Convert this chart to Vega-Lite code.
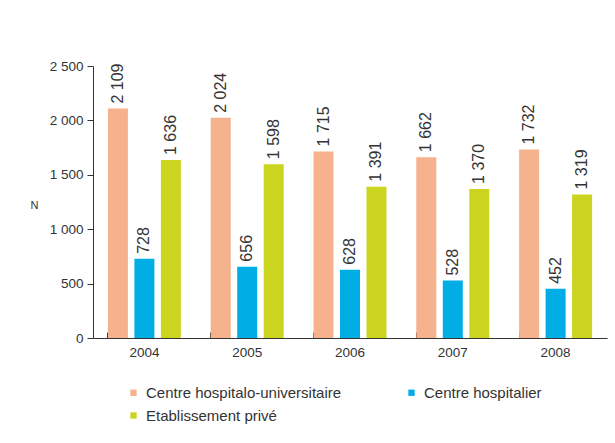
{
  "$schema": "https://vega.github.io/schema/vega-lite/v6.json",
  "width": 514,
  "height": 272,
  "autosize": "none",
  "padding": {"left": 93, "top": 66, "right": 8, "bottom": 105},
  "background": "white",
  "config": {
    "locale": {"number": {"decimal": ",", "thousands": " ", "grouping": [3], "currency": ["", " €"]}},
    "view": {"stroke": null},
    "font": "Liberation Sans",
    "axis": {"domainColor": "#333333", "tickColor": "#333333", "labelColor": "#333333", "labelFont": "Liberation Sans", "labelFontSize": 13.5, "grid": false}
  },
  "data": {
    "values": [
      {"annee": "2004", "type": "Centre hospitalo-universitaire", "n": 2109},
      {"annee": "2004", "type": "Centre hospitalier", "n": 728},
      {"annee": "2004", "type": "Etablissement privé", "n": 1636},
      {"annee": "2005", "type": "Centre hospitalo-universitaire", "n": 2024},
      {"annee": "2005", "type": "Centre hospitalier", "n": 656},
      {"annee": "2005", "type": "Etablissement privé", "n": 1598},
      {"annee": "2006", "type": "Centre hospitalo-universitaire", "n": 1715},
      {"annee": "2006", "type": "Centre hospitalier", "n": 628},
      {"annee": "2006", "type": "Etablissement privé", "n": 1391},
      {"annee": "2007", "type": "Centre hospitalo-universitaire", "n": 1662},
      {"annee": "2007", "type": "Centre hospitalier", "n": 528},
      {"annee": "2007", "type": "Etablissement privé", "n": 1370},
      {"annee": "2008", "type": "Centre hospitalo-universitaire", "n": 1732},
      {"annee": "2008", "type": "Centre hospitalier", "n": 452},
      {"annee": "2008", "type": "Etablissement privé", "n": 1319}
    ]
  },
  "encoding": {
    "x": {
      "field": "annee", "type": "nominal",
      "scale": {"paddingInner": 0.29, "paddingOuter": 0.145},
      "axis": {"title": null, "labelAngle": 0, "bandPosition": 0, "tickSize": -6, "labelPadding": 13, "domainWidth": 1.2}
    },
    "xOffset": {
      "field": "type", "type": "nominal",
      "sort": ["Centre hospitalo-universitaire", "Centre hospitalier", "Etablissement privé"],
      "scale": {"paddingInner": 0.245, "paddingOuter": 0}
    },
    "y": {
      "field": "n", "type": "quantitative",
      "scale": {"domain": [0, 2500], "nice": false},
      "axis": {
        "title": "N", "titleAngle": 0, "titleX": -59, "titleY": 139, "titleAlign": "center", "titleBaseline": "middle",
        "titleFontSize": 11, "titleFontWeight": "normal", "titleColor": "#333333", "titleFont": "Liberation Sans",
        "values": [0, 500, 1000, 1500, 2000, 2500], "format": ",d", "tickSize": 6, "labelPadding": 4
      }
    }
  },
  "layer": [
    {
      "mark": {"type": "bar"},
      "encoding": {
        "color": {
          "field": "type", "type": "nominal",
          "scale": {"domain": ["Centre hospitalo-universitaire", "Centre hospitalier", "Etablissement privé"], "range": ["#F5B28C", "#00ADE4", "#CBD51F"]},
          "legend": {
            "title": null, "orient": "none", "legendX": 33, "legendY": 319, "direction": "horizontal", "columns": 2,
            "symbolType": "square", "symbolSize": 40, "symbolStrokeWidth": 0, "labelFontSize": 15, "labelColor": "#333333",
            "labelFont": "Liberation Sans", "labelOffset": 5, "columnPadding": 62, "rowPadding": 7, "labelLimit": 400
          }
        }
      }
    },
    {
      "mark": {"type": "text", "angle": -90, "align": "left", "baseline": "middle", "dx": 5, "fontSize": 16, "color": "#333333", "font": "Liberation Sans"},
      "encoding": {
        "text": {"field": "n", "type": "quantitative", "format": ",d"}
      }
    }
  ]
}
